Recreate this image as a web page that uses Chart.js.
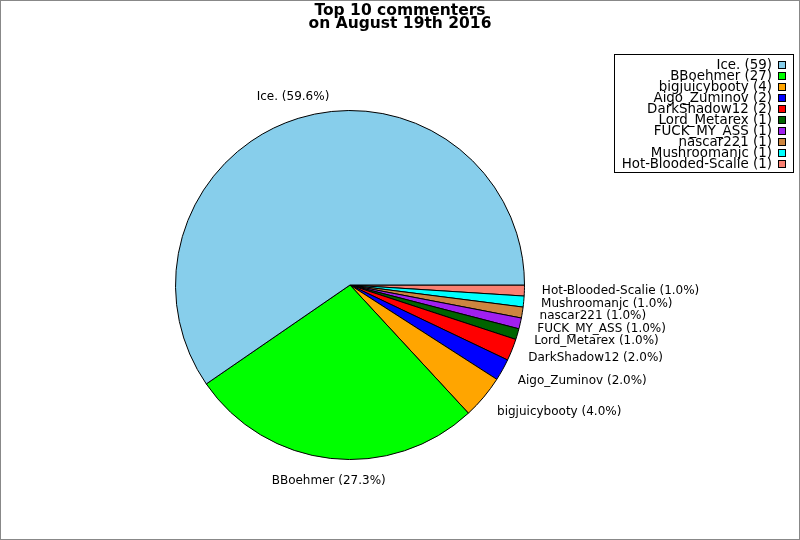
<!DOCTYPE html>
<html>
<head>
<meta charset="utf-8">
<script src="https://cdn.jsdelivr.net/npm/chart.js@4/dist/chart.umd.min.js"></script>
<style>
  html, body { margin: 0; padding: 0; background: #fff; }
  canvas { display: block; }
</style>
</head>
<body>
<canvas id="pieCTX" width="800" height="540"></canvas>
<script>
const names = ["Ice.", "BBoehmer", "bigjuicybooty", "Aigo_Zuminov", "DarkShadow12",
  "Lord_Metarex", "FUCK_MY_ASS", "nascar221", "Mushroomanjc", "Hot-Blooded-Scalie"];
const counts = [59, 27, 4, 2, 2, 1, 1, 1, 1, 1];
const colors = ["#87ceeb", "#00ff00", "#ffa500", "#0000ff", "#ff0000",
  "#006400", "#a020f0", "#cd853f", "#00ffff", "#fa8072"];
const titleLines = ["Top 10 commenters", "on August 19th 2016"];

const total = counts.reduce((a, b) => a + b, 0);
const pct = (v) => (v / total * 100).toFixed(1) + "%";

// slices go counterclockwise from 3 o'clock in the original,
// so feed them reversed and draw clockwise from 3 o'clock
const revNames = names.slice().reverse();
const revCounts = counts.slice().reverse();
const revColors = colors.slice().reverse();

const FONT = "'DejaVu Sans', 'Liberation Sans', sans-serif";

const overlay = {
  id: "overlay",
  afterDraw(chart) {
    const ctx = chart.ctx;
    const meta = chart.getDatasetMeta(0);
    ctx.save();

    // slice labels
    ctx.font = "12px " + FONT;
    ctx.fillStyle = "#000";
    ctx.textBaseline = "middle";
    meta.data.forEach((arc, i) => {
      const p = arc.getProps(["x", "y", "startAngle", "endAngle", "outerRadius"], true);
      const mid = (p.startAngle + p.endAngle) / 2;
      const c = Math.cos(mid), s = Math.sin(mid);
      const r = p.outerRadius * 1.1;
      const x = p.x + r * c;
      const y = p.y + r * s + s * 5;
      if (Math.abs(c) < 0.35) ctx.textAlign = "center";
      else ctx.textAlign = c > 0 ? "left" : "right";
      ctx.fillText(revNames[i] + " (" + pct(revCounts[i]) + ")", x, y);
    });

    // title
    ctx.font = "bold 15.5px " + FONT;
    ctx.textAlign = "center";
    ctx.fillText(titleLines[0], 400, 11);
    ctx.fillText(titleLines[1], 400, 24);

    // legend
    ctx.lineWidth = 1;
    ctx.strokeStyle = "#000";
    ctx.strokeRect(614.5, 54.5, 179, 118);
    ctx.font = "13.4px " + FONT;
    ctx.textAlign = "right";
    names.forEach((n, i) => {
      const y = 65.5 + i * 11;
      ctx.fillStyle = "#000";
      ctx.fillText(n + " (" + counts[i] + ")", 772, y);
      ctx.fillStyle = colors[i];
      ctx.fillRect(778.5, y - 4, 7, 7);
      ctx.strokeRect(778.5, y - 4, 7, 7);
    });

    // frame
    ctx.strokeStyle = "#888";
    ctx.strokeRect(0.5, 0.5, 799, 539);
    ctx.restore();
  }
};

const pieWrapper = document.getElementById("pieCTX");

const pieCTX = new Chart(pieWrapper, {
  type: "pie",
  data: {
    labels: revNames,
    datasets: [
      {
        data: revCounts,
        backgroundColor: revColors,
        borderColor: "#000",
        borderWidth: 1,
      },
    ],
  },
  options: {
    responsive: false,
    devicePixelRatio: 1,
    animation: false,
    rotation: 90,
    layout: { padding: { left: 175, right: 275, top: 110, bottom: 80 } },
    plugins: {
      legend: { display: false },
      tooltip: { enabled: false },
      title: { display: false },
    },
  },
  plugins: [overlay],
});
</script>
</body>
</html>
